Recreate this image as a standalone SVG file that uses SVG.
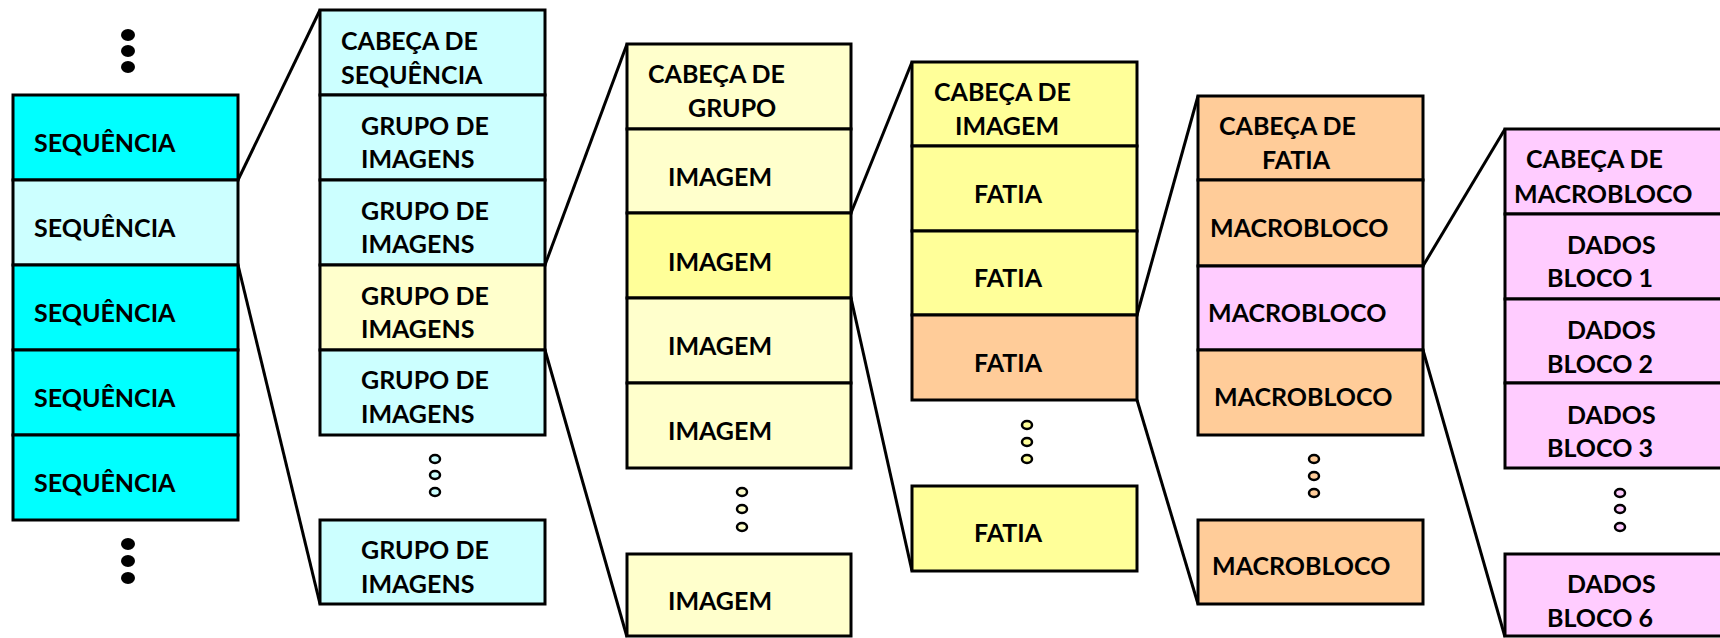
<svg xmlns="http://www.w3.org/2000/svg" width="1720" height="638" viewBox="0 0 1720 638">
<style>
rect{stroke:#000;stroke-width:3}
text{font-family:Lato,"Liberation Sans",sans-serif;font-weight:bold;font-size:25px;fill:#000}
.c1{fill:#00FFFF}.c2{fill:#CCFFFF}.y1{fill:#FFFFCC}.y2{fill:#FFFF99}.o{fill:#FFCC99}.p{fill:#FFCCFF}
.dot{stroke:#000;stroke-width:2.5}
.bd{fill:#000}
#connectors line{stroke:#000;stroke-width:3}
</style>
<rect width="1720" height="638" fill="#fff" style="stroke:none"/>
<g id="connectors">
<line x1="238" y1="180" x2="320" y2="10"/>
<line x1="238" y1="265" x2="320" y2="604"/>
<line x1="545" y1="265" x2="627" y2="44"/>
<line x1="545" y1="350" x2="627" y2="637"/>
<line x1="851" y1="213" x2="912" y2="62"/>
<line x1="851" y1="298" x2="912" y2="571"/>
<line x1="1137" y1="315" x2="1198" y2="96"/>
<line x1="1137" y1="400" x2="1198" y2="604"/>
<line x1="1423" y1="266" x2="1505" y2="129"/>
<line x1="1423" y1="350" x2="1505" y2="637"/>
</g>
<g id="col1">
<ellipse class="bd" cx="128" cy="35" rx="7" ry="6"/><ellipse class="bd" cx="128" cy="51" rx="7" ry="6"/><ellipse class="bd" cx="128" cy="67" rx="7" ry="6"/>
<g id="seq1"><rect class="c1" x="13" y="95" width="225" height="85"/><text x="34" y="152">SEQUÊNCIA</text></g>
<g id="seq2"><rect class="c2" x="13" y="180" width="225" height="85"/><text x="34" y="237">SEQUÊNCIA</text></g>
<g id="seq3"><rect class="c1" x="13" y="265" width="225" height="85"/><text x="34" y="322">SEQUÊNCIA</text></g>
<g id="seq4"><rect class="c1" x="13" y="350" width="225" height="85"/><text x="34" y="407">SEQUÊNCIA</text></g>
<g id="seq5"><rect class="c1" x="13" y="435" width="225" height="85"/><text x="34" y="492">SEQUÊNCIA</text></g>
<ellipse class="bd" cx="128" cy="544" rx="7" ry="6"/><ellipse class="bd" cx="128" cy="561" rx="7" ry="6"/><ellipse class="bd" cx="128" cy="578" rx="7" ry="6"/>
</g>
<g id="col2">
<g id="cabseq"><rect class="c2" x="320" y="10" width="225" height="85"/><text x="341" y="50">CABEÇA DE</text><text x="341" y="84">SEQUÊNCIA</text></g>
<g id="gop1"><rect class="c2" x="320" y="95" width="225" height="85"/><text x="361" y="135">GRUPO DE</text><text x="361" y="168">IMAGENS</text></g>
<g id="gop2"><rect class="c2" x="320" y="180" width="225" height="85"/><text x="361" y="220">GRUPO DE</text><text x="361" y="253">IMAGENS</text></g>
<g id="gop3"><rect class="y1" x="320" y="265" width="225" height="85"/><text x="361" y="305">GRUPO DE</text><text x="361" y="338">IMAGENS</text></g>
<g id="gop4"><rect class="c2" x="320" y="350" width="225" height="85"/><text x="361" y="389">GRUPO DE</text><text x="361" y="423">IMAGENS</text></g>
<ellipse class="dot c2" cx="435" cy="459" rx="5" ry="4"/><ellipse class="dot c2" cx="435" cy="475" rx="5" ry="4"/><ellipse class="dot c2" cx="435" cy="492" rx="5" ry="4"/>
<g id="gopn"><rect class="c2" x="320" y="520" width="225" height="84"/><text x="361" y="559">GRUPO DE</text><text x="361" y="593">IMAGENS</text></g>
</g>
<g id="col3">
<g id="cabgrp"><rect class="y1" x="627" y="44" width="224" height="85"/><text x="648" y="83">CABEÇA DE</text><text x="688" y="117">GRUPO</text></g>
<g id="img1"><rect class="y1" x="627" y="129" width="224" height="84"/><text x="668" y="186">IMAGEM</text></g>
<g id="img2"><rect class="y2" x="627" y="213" width="224" height="85"/><text x="668" y="271">IMAGEM</text></g>
<g id="img3"><rect class="y1" x="627" y="298" width="224" height="85"/><text x="668" y="355">IMAGEM</text></g>
<g id="img4"><rect class="y1" x="627" y="383" width="224" height="85"/><text x="668" y="440">IMAGEM</text></g>
<ellipse class="dot y1" cx="742" cy="492" rx="5" ry="4"/><ellipse class="dot y1" cx="742" cy="509" rx="5" ry="4"/><ellipse class="dot y1" cx="742" cy="527" rx="5" ry="4"/>
<g id="imgn"><rect class="y1" x="627" y="554" width="224" height="82"/><text x="668" y="610">IMAGEM</text></g>
</g>
<g id="col4">
<g id="cabimg"><rect class="y2" x="912" y="62" width="225" height="84"/><text x="934" y="101">CABEÇA DE</text><text x="955" y="135">IMAGEM</text></g>
<g id="fat1"><rect class="y2" x="912" y="146" width="225" height="85"/><text x="974" y="203">FATIA</text></g>
<g id="fat2"><rect class="y2" x="912" y="231" width="225" height="84"/><text x="974" y="287">FATIA</text></g>
<g id="fat3"><rect class="o" x="912" y="315" width="225" height="85"/><text x="974" y="372">FATIA</text></g>
<ellipse class="dot y2" cx="1027" cy="425" rx="5" ry="4"/><ellipse class="dot y2" cx="1027" cy="442" rx="5" ry="4"/><ellipse class="dot y2" cx="1027" cy="459" rx="5" ry="4"/>
<g id="fatn"><rect class="y2" x="912" y="486" width="225" height="85"/><text x="974" y="542">FATIA</text></g>
</g>
<g id="col5">
<g id="cabfat"><rect class="o" x="1198" y="96" width="225" height="84"/><text x="1219" y="135">CABEÇA DE</text><text x="1262" y="169">FATIA</text></g>
<g id="mb1"><rect class="o" x="1198" y="180" width="225" height="86"/><text x="1210" y="237">MACROBLOCO</text></g>
<g id="mb2"><rect class="p" x="1198" y="266" width="225" height="84"/><text x="1208" y="322">MACROBLOCO</text></g>
<g id="mb3"><rect class="o" x="1198" y="350" width="225" height="85"/><text x="1214" y="406">MACROBLOCO</text></g>
<ellipse class="dot o" cx="1314" cy="459" rx="5" ry="4"/><ellipse class="dot o" cx="1314" cy="476" rx="5" ry="4"/><ellipse class="dot o" cx="1314" cy="493" rx="5" ry="4"/>
<g id="mbn"><rect class="o" x="1198" y="520" width="225" height="84"/><text x="1212" y="575">MACROBLOCO</text></g>
</g>
<g id="col6">
<g id="cabmb"><rect class="p" x="1505" y="129" width="240" height="85"/><text x="1526" y="168">CABEÇA DE</text><text x="1514" y="203">MACROBLOCO</text></g>
<g id="db1"><rect class="p" x="1505" y="214" width="240" height="85"/><text x="1567" y="254">DADOS</text><text x="1547" y="287">BLOCO 1</text></g>
<g id="db2"><rect class="p" x="1505" y="299" width="240" height="84"/><text x="1567" y="339">DADOS</text><text x="1547" y="373">BLOCO 2</text></g>
<g id="db3"><rect class="p" x="1505" y="383" width="240" height="85"/><text x="1567" y="424">DADOS</text><text x="1547" y="457">BLOCO 3</text></g>
<ellipse class="dot p" cx="1620" cy="493" rx="5" ry="4"/><ellipse class="dot p" cx="1620" cy="509" rx="5" ry="4"/><ellipse class="dot p" cx="1620" cy="527" rx="5" ry="4"/>
<g id="db6"><rect class="p" x="1505" y="554" width="240" height="82"/><text x="1567" y="593">DADOS</text><text x="1547" y="627">BLOCO 6</text></g>
</g>
</svg>
